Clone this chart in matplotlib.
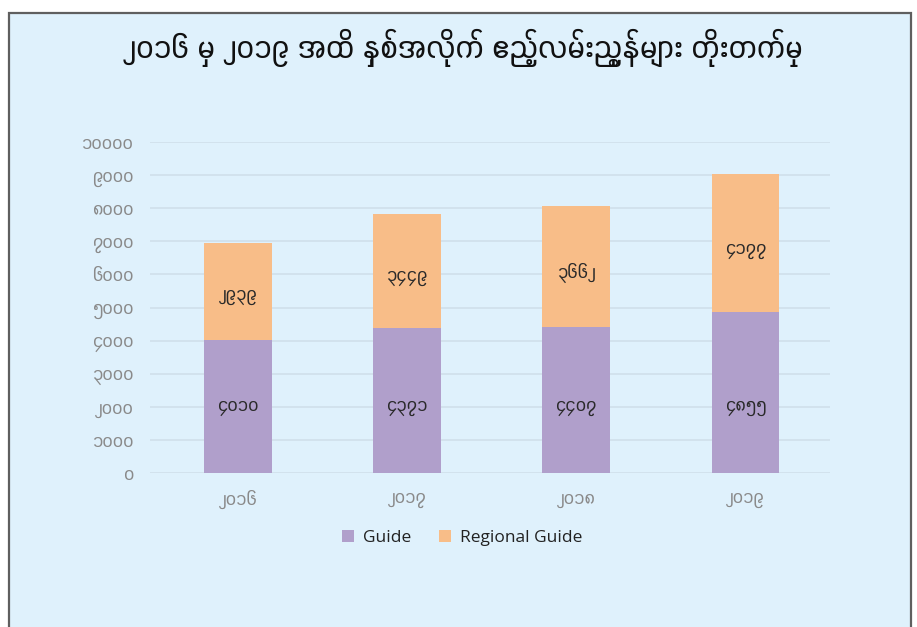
import matplotlib
matplotlib.use("Agg")
import matplotlib.pyplot as plt
from matplotlib import font_manager
from matplotlib.patches import Rectangle
import numpy as np

years = ["၂၀၁၆", "၂၀၁၇", "၂၀၁၈", "၂၀၁၉"]
guide = [4010, 4371, 4407, 4855]
regional = [2939, 3449, 3662, 4177]
guide_lbl = ["၄၀၁၀", "၄၃၇၁", "၄၄၀၇", "၄၈၅၅"]
regional_lbl = ["၂၉၃၉", "၃၄၄၉", "၃၆၆၂", "၄၁၇၇"]
yticks = [0, 1000, 2000, 3000, 4000, 5000, 6000, 7000, 8000, 9000, 10000]
ytick_lbl = ["၀", "၁၀၀၀", "၂၀၀၀", "၃၀၀၀", "၄၀၀၀", "၅၀၀၀", "၆၀၀၀", "၇၀၀၀", "၈၀၀၀", "၉၀၀၀", "၁၀၀၀၀"]
title = "၂၀၁၆ မှ ၂၀၁၉ အထိ နှစ်အလိုက် ဧည့်လမ်းညွှန်များ တိုးတက်မှု"
series_names = ["Guide", "Regional Guide"]

# find fonts with Myanmar coverage; prefer proportional ones
cands = []
try:
    from matplotlib.ft2font import FT2Font
    for f in font_manager.fontManager.ttflist:
        try:
            cmap = FT2Font(f.fname).get_charmap()
            if 0x1040 in cmap and 0x1019 in cmap:
                cands.append(f.name)
        except Exception:
            pass
except Exception:
    pass

def score(n):
    s = 0
    low = n.lower()
    if "myanmar" in low or "padauk" in low or "pyidaungsu" in low:
        s -= 10
    if "mono" in low or "unifont" in low or "code" in low:
        s += 10
    return s

cands = sorted(set(cands), key=score)
mm_family = cands[0] if cands else None
families = ["Open Sans", "DejaVu Sans"] + ([mm_family] if mm_family else [])
plt.rcParams['font.family'] = families

W, H = 917, 627
fig = plt.figure(figsize=(W / 100, H / 100), dpi=100)
fig.patch.set_facecolor("white")
bg = "#dff1fc"
fig.patches.append(Rectangle((9 / W, -0.05), (911 - 9) / W, 1.05 - 13 / H,
                             transform=fig.transFigure, facecolor=bg,
                             edgecolor="#5f5f5f", linewidth=1.6, zorder=-5))

ax = fig.add_axes([150 / W, 1 - 473 / H, (830 - 150) / W, (473 - 142) / H])
ax.set_zorder(2)
ax.set_facecolor("none")
x = np.arange(len(years))
c_guide = "#b09fcb"
c_reg = "#f8bd88"
ax.bar(x, guide, width=0.4, color=c_guide, label=series_names[0], zorder=3)
ax.bar(x, regional, width=0.4, bottom=guide, color=c_reg, label=series_names[1], zorder=3)
for i in range(len(years)):
    ax.text(x[i], 2000, guide_lbl[i], ha="center", va="center",
            fontsize=13.5, color="#2a2a2a", zorder=4)
    ax.text(x[i], guide[i] + regional[i] * 0.45, regional_lbl[i], ha="center", va="center",
            fontsize=13.5, color="#2a2a2a", zorder=4)

ax.set_xlim(-0.52, 3.5)
ax.set_ylim(0, 10000)
ax.set_yticks(yticks)
ax.set_yticklabels(ytick_lbl)
ax.set_xticks(x)
ax.set_xticklabels(years)
ax.tick_params(axis="both", length=0, colors="#8a8a8a", labelsize=13.5)
ax.tick_params(axis="y", pad=12)
ax.tick_params(axis="x", pad=12)
for s in ax.spines.values():
    s.set_visible(False)
ax.grid(axis="y", color="#d0e0ea", linewidth=1.2, zorder=0)
ax.set_axisbelow(True)

fig.text(463 / W, 1 - 48 / H, title, ha="center", va="center", fontsize=23,
         fontweight="bold", color="#111111")

leg = fig.legend(loc="center", bbox_to_anchor=(462 / W, 1 - 538 / H), ncol=2,
                 frameon=False, fontsize=12.5, handlelength=0.7, handleheight=0.7,
                 columnspacing=1.6, handletextpad=0.5)
for t in leg.get_texts():
    t.set_color("#222222")

fig.savefig("out.png", dpi=100)
